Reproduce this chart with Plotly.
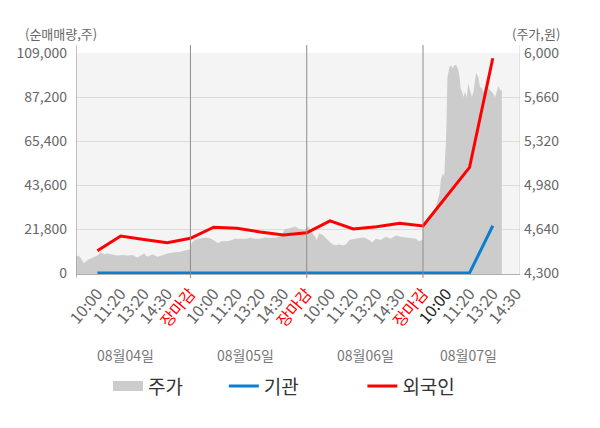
import plotly.graph_objects as go

# 주가 (area, right axis) - slot positions and prices
day1_x = [0.08, 0.18, 0.29, 0.42, 0.57, 0.78, 1.00, 1.14, 1.29, 1.43, 1.64, 1.86, 2.08, 2.29,
          2.51, 2.72, 2.87, 3.01, 3.15, 3.37, 3.58, 3.80, 4.02, 4.30, 4.58, 4.87, 4.98]
day1_price = [4425, 4435, 4415, 4375, 4400, 4420, 4435, 4460, 4445, 4450, 4440, 4435, 4440, 4435,
              4440, 4420, 4435, 4450, 4425, 4445, 4425, 4440, 4450, 4460, 4465, 4480, 4480]
day2_x = [5.04, 5.19, 5.33, 5.47, 5.69, 5.90, 6.12, 6.19, 6.33, 6.62, 6.91, 7.20, 7.41, 7.56,
          7.77, 7.99, 8.20, 8.41, 8.69, 8.91, 9.06, 9.27, 9.49, 9.70, 9.92]
day2_price = [4530, 4555, 4565, 4570, 4575, 4565, 4540, 4530, 4545, 4545, 4565, 4565, 4565, 4575,
              4565, 4565, 4575, 4570, 4575, 4590, 4640, 4645, 4660, 4640, 4630]
day3_x = [9.96, 10.06, 10.18, 10.32, 10.44, 10.53, 10.68, 10.82, 10.97, 11.11, 11.25, 11.40,
          11.54, 11.69, 11.83, 12.04, 12.25, 12.46, 12.68, 12.82, 12.97, 13.18, 13.40, 13.61,
          13.83, 14.05, 14.26, 14.48, 14.69, 14.83, 14.98]
day3_price = [4645, 4660, 4630, 4595, 4555, 4605, 4595, 4570, 4545, 4520, 4515, 4520, 4515, 4520,
              4555, 4565, 4570, 4575, 4555, 4535, 4565, 4555, 4580, 4565, 4590, 4580, 4575, 4570,
              4565, 4545, 4555]
day4_x = [15.02, 15.17, 15.31, 15.45, 15.60, 15.71, 15.77, 15.85, 15.91, 16.00, 16.05, 16.14,
          16.21, 16.27, 16.34, 16.43, 16.50, 16.57, 16.62, 16.68, 16.74, 16.81, 16.88, 16.95,
          17.02, 17.10, 17.17, 17.28, 17.38, 17.45, 17.53, 17.60, 17.67, 17.74, 17.88, 18.00,
          18.10, 18.17, 18.24, 18.32, 18.39]
day4_price = [4685, 4695, 4725, 4750, 4840, 4915, 5020, 5070, 5045, 5380, 5815, 5895, 5905, 5880,
              5905, 5905, 5880, 5815, 5725, 5700, 5660, 5700, 5660, 5765, 5715, 5660, 5700, 5845,
              5815, 5740, 5725, 5700, 5725, 5735, 5715, 5690, 5660, 5700, 5745, 5715, 5710]

# 순매매량 (left axis)
flow_x = [1, 2, 3, 4, 5, 6, 7, 8, 9, 10, 11, 12, 13, 14, 15, 17, 18]
foreign = [11000, 18300, 16600, 15000, 17200, 22700, 22200, 20300, 18800, 19900,
           25800, 21800, 22900, 24600, 23300, 52300, 106400]
inst = [0, 0, 0, 0, 0, 0, 0, 0, 0, 0, 0, 0, 0, 0, 0, 0, 23400]

tick_pos = list(range(1, 20))
time_labels = ['10:00', '11:20', '13:20', '14:30', '장마감'] * 3 + ['10:00', '11:20', '13:20', '14:30']
day_labels = ['08월04일', '08월05일', '08월06일', '08월07일']
day_label_x = [2.19, 7.35, 12.51, 16.94]
day_breaks = [5, 10, 15]

left_ticks = [0, 21800, 43600, 65400, 87200, 109000]
right_ticks = [4300, 4640, 4980, 5320, 5660, 6000]

FONT = 'Noto Sans CJK KR'

ticktext = []
for i, t in enumerate(time_labels):
    if t == '장마감':
        ticktext.append('<span style="color:#ff0000">장마감</span>')
    elif i == 15:
        ticktext.append('<span style="color:#222222">10:00</span>')
    else:
        ticktext.append(t)

price_x = day1_x + day2_x + day3_x + day4_x
price = day1_price + day2_price + day3_price + day4_price

fig = go.Figure()
fig.add_trace(go.Scatter(x=price_x, y=price, name='주가', mode='lines', fill='tozeroy',
                         fillcolor='#cccccc', line=dict(width=0, color='#cccccc'),
                         yaxis='y', showlegend=False))
# legend swatch for the area
fig.add_trace(go.Scatter(x=[None], y=[None], name='주가', mode='lines',
                         line=dict(width=10, color='#cccccc'), yaxis='y', legend='legend'))
fig.add_trace(go.Scatter(x=flow_x, y=inst, name='기관', mode='lines',
                         line=dict(width=3, color='#0a7fcf'), yaxis='y2', legend='legend2'))
fig.add_trace(go.Scatter(x=flow_x, y=foreign, name='외국인', mode='lines',
                         line=dict(width=3, color='#ff0000'), yaxis='y2', legend='legend3'))

x_lo, x_hi = 0.08, 19.17

# day dividers and frame edges
for xb in [x_lo] + day_breaks:
    fig.add_shape(type='line', xref='x', yref='paper', x0=xb, x1=xb, y0=-0.018, y1=1.036,
                  line=dict(color='#8c8c8c', width=1))
fig.add_shape(type='line', xref='x', yref='paper', x0=x_hi, x1=x_hi, y0=0, y1=1.036,
              line=dict(color='#d0d0d0', width=1))

for lbl, xp in zip(day_labels, day_label_x):
    fig.add_annotation(x=xp, y=-0.367, xref='x', yref='paper', text=lbl, showarrow=False,
                       xanchor='center', yanchor='middle',
                       font=dict(size=14, color='#777777', family=FONT))

fig.add_annotation(x=-0.034, y=1.09, xref='paper', yref='paper', text='(순매매량,주)',
                   showarrow=False, xanchor='center', yanchor='middle',
                   font=dict(size=13, color='#666666', family=FONT))
fig.add_annotation(x=1.036, y=1.09, xref='paper', yref='paper', text='(주가,원)',
                   showarrow=False, xanchor='center', yanchor='middle',
                   font=dict(size=13, color='#666666', family=FONT))

legend_style = dict(orientation='h', yanchor='middle', y=-0.508, xanchor='left',
                    font=dict(size=19, color='#333333', family=FONT), bgcolor='rgba(0,0,0,0)')

fig.update_layout(
    width=584, height=428,
    margin=dict(l=68, r=72, t=45, b=162, autoexpand=False),
    paper_bgcolor='white', plot_bgcolor='#f4f4f4',
    font=dict(family=FONT, color='#666666'),
    xaxis=dict(range=[x_lo, x_hi], tickvals=tick_pos, ticktext=ticktext, tickangle=-50,
               showgrid=False, zeroline=False, showline=True, linecolor='#b0b0b0',
               tickfont=dict(size=16, color='#666666', family=FONT), ticks='',
               ticklabelstandoff=3, automargin=False),
    yaxis=dict(range=[4292.3, 6000], tickvals=right_ticks, side='right',
               tickformat=',d', showgrid=True, gridcolor='#dcdcdc', zeroline=False,
               tickfont=dict(size=14, color='#666666', family=FONT),
               ticklabelstandoff=3, automargin=False),
    yaxis2=dict(range=[-495, 109000], tickvals=left_ticks, side='left', overlaying='y',
                tickformat=',d', showgrid=False, zeroline=False,
                tickfont=dict(size=14, color='#666666', family=FONT),
                ticklabelstandoff=8, automargin=False),
    legend=dict(legend_style, x=0.072),
    legend2=dict(legend_style, x=0.333),
    legend3=dict(legend_style, x=0.645),
)

fig.write_html('out.html')
